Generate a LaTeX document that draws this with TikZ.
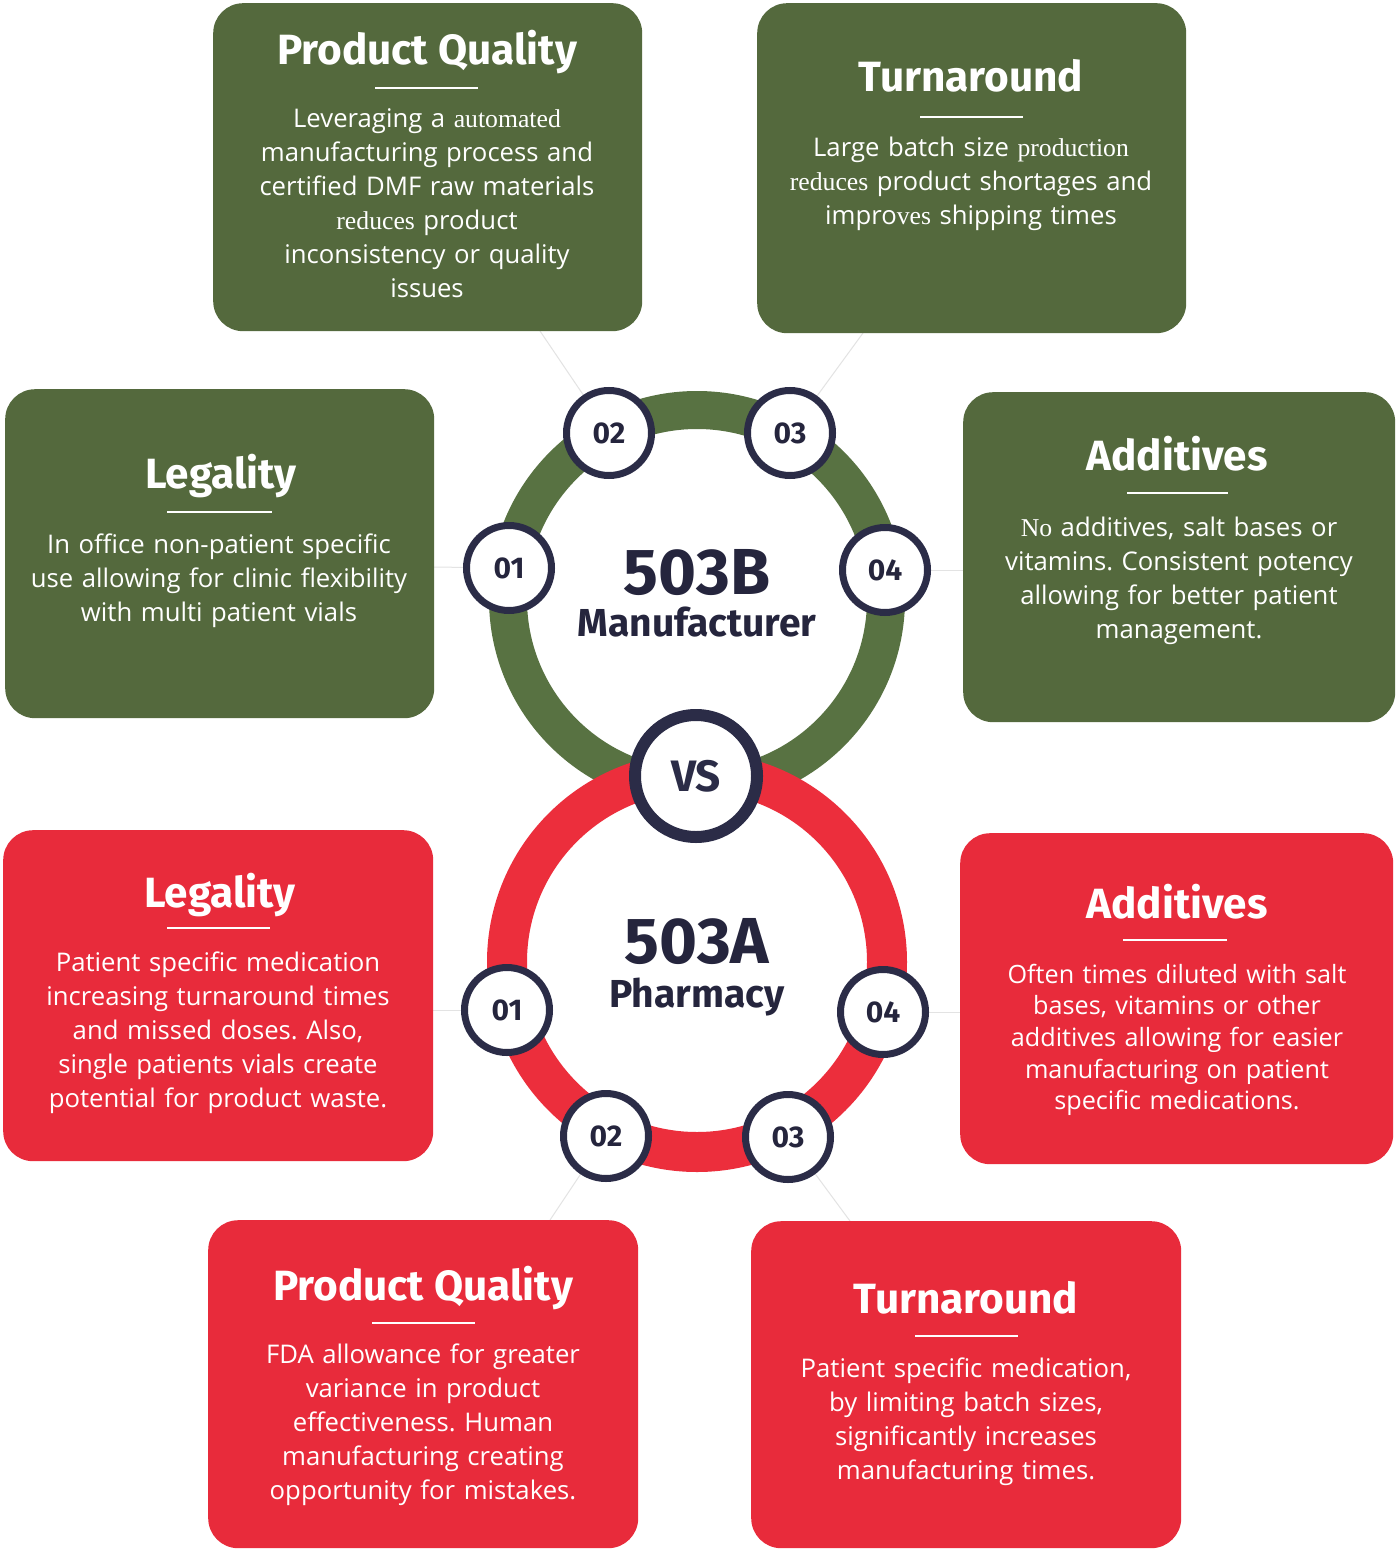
\documentclass[tikz,border=0pt]{standalone}
\usepackage{fontspec}
\setmainfont{Open Sans}
\newfontfamily\bodyf{Open Sans}
\newfontfamily\titlef{Fira Sans}
\newfontfamily\oldserif{Liberation Serif}
\definecolor{gbox}{HTML}{54693D}
\definecolor{gring}{HTML}{587242}
\definecolor{rbox}{HTML}{E82B3B}
\definecolor{rring}{HTML}{EC2E3C}
\definecolor{navy}{HTML}{2B2C47}
\definecolor{ink}{HTML}{25253D}
\pgfdeclarelayer{back}
\pgfdeclarelayer{links}
\pgfsetlayers{back,links,main}
\tikzset{
  panel/.style={rounded corners=30pt, anchor=north west, inner sep=0pt, draw=none},
  gpanel/.style={panel, fill=gbox},
  rpanel/.style={panel, fill=rbox},
  ttl/.style={text=white, anchor=base, inner sep=0pt, font=\titlef\bfseries\fontsize{42.3}{42.3}\selectfont},
  body/.style={text=white, anchor=base, inner sep=0pt, align=center, text width=440pt, font=\bodyf\fontsize{25.7}{34}\selectfont},
  bodyr/.style={body, font=\bodyf\fontsize{25.2}{31.7}\selectfont},
  rule/.style={draw=white, line width=2pt},
  num/.style={circle, draw=navy, line width=7pt, fill=white, minimum size=85pt, inner sep=0pt, text=ink, font=\titlef\bfseries\fontsize{30}{30}\selectfont},
  vsnode/.style={circle, draw=navy, line width=12pt, fill=white, minimum size=122pt, inner sep=0pt, text=navy, font=\titlef\bfseries\fontsize{44}{44}\selectfont},
  big/.style={text=ink, anchor=base, inner sep=0pt, text depth=0pt, font=\titlef\bfseries\fontsize{65}{65}\selectfont},
  sub/.style={text=ink, anchor=base, inner sep=0pt, text height=26pt, font=\titlef\bfseries\fontsize{39}{39}\selectfont},
  link/.style={draw=gray!22, line width=1pt}
}
\begin{document}
\frenchspacing
\begin{tikzpicture}[x=1pt,y=-1pt]
\begin{pgfonlayer}{back}
\fill[white] (0,0) rectangle (1395,1549);
\end{pgfonlayer}
\useasboundingbox (0,0) rectangle (1395,1549);

% ---------- panels ----------
\node[gpanel, minimum width=429pt, minimum height=328pt] (gPQ)  at (213,3) {};
\node[gpanel, minimum width=429pt, minimum height=330pt] (gTA)  at (757,3) {};
\node[gpanel, minimum width=429pt, minimum height=329pt] (gLeg) at (5,389) {};
\node[gpanel, minimum width=432pt, minimum height=330pt] (gAdd) at (963,392) {};
\node[rpanel, minimum width=430pt, minimum height=331pt] (rLeg) at (3,830) {};
\node[rpanel, minimum width=433pt, minimum height=331pt] (rAdd) at (960,833) {};
\node[rpanel, minimum width=430pt, minimum height=328pt] (rPQ)  at (208,1220) {};
\node[rpanel, minimum width=430pt, minimum height=327pt] (rTA)  at (751,1221) {};

% ---------- panel texts ----------
\node[ttl] (gPQt) at (427,65) {Product Quality};
\draw[rule] (375,88) -- (478,88);
\node[body] (gPQb) at (427,128) {Leveraging a {\oldserif automated}\\manufacturing process and\\certified DMF raw materials\\{\oldserif reduces} product\\inconsistency or quality\\issues};

\node[ttl] (gTAt) at (971,92) {Turnaround};
\draw[rule] (920,117) -- (1023,117);
\node[body] (gTAb) at (971,157) {Large batch size {\oldserif production}\\{\oldserif reduces} product shortages and\\impro{\oldserif ves} shipping times};

\node[ttl] (gLegt) at (221,488) {Legality};
\draw[rule] (167,512) -- (272,512);
\node[body] (gLegb) at (219,553) {In office non-patient specific\\use allowing for clinic flexibility\\with multi patient vials};

\node[ttl] (gAddt) at (1177,470) {Additives};
\draw[rule] (1127,493) -- (1228,493);
\node[body] (gAddb) at (1179,536) {{\oldserif No} additives, salt bases or\\vitamins. Consistent potency\\allowing for better patient\\management.};

\node[ttl] (rLegt) at (220,907) {Legality};
\draw[rule] (167,928) -- (270,928);
\node[body] (rLegb) at (218,971) {Patient specific medication\\increasing turnaround times\\and missed doses. Also,\\single patients vials create\\potential for product waste.};

\node[ttl] (rAddt) at (1177,918) {Additives};
\draw[rule] (1123,940) -- (1227,940);
\node[bodyr] (rAddb) at (1177,983) {Often times diluted with salt\\bases, vitamins or other\\additives allowing for easier\\manufacturing on patient\\specific medications.};

\node[ttl] (rPQt) at (423,1300) {Product Quality};
\draw[rule] (372,1323) -- (475,1323);
\node[body] (rPQb) at (423,1363) {FDA allowance for greater\\variance in product\\effectiveness. Human\\manufacturing creating\\opportunity for mistakes.};

\node[ttl] (rTAt) at (966,1313) {Turnaround};
\draw[rule] (915,1336) -- (1018,1336);
\node[body] (rTAb) at (966,1377) {Patient specific medication,\\by limiting batch sizes,\\significantly increases\\manufacturing times.};

% ---------- rings ----------
\draw[gring, line width=38pt] (697,599) circle[radius=189pt];
\draw[rring, line width=40pt] (697,962) circle[radius=190pt];

% ---------- numbered circles ----------
\node[num] (g01) at (509,568) {01};
\node[num] (g02) at (609,433) {02};
\node[num] (g03) at (790,433) {03};
\node[num] (g04) at (885,570) {04};
\node[num] (r01) at (507,1010) {01};
\node[num] (r02) at (606,1136) {02};
\node[num] (r03) at (788,1137) {03};
\node[num] (r04) at (883,1012) {04};
\node[vsnode] (vs) at (696,776) {VS};

\node[big] (b503B) at (697,594) {503B};
\node[sub] (manu) at (697,636) {Manufacturer};
\node[big] (b503A) at (697,963) {503A};
\node[sub] (phar) at (697,1007) {Pharmacy};

% ---------- faint connectors ----------
\coordinate (cgPQ) at (540,331);
\coordinate (cgTA) at (863,333);
\coordinate (cgLeg) at (433,567);
\coordinate (cgAdd) at (963,570);
\coordinate (crLeg) at (433,1010);
\coordinate (crAdd) at (960,1012);
\coordinate (crPQ) at (550,1220);
\coordinate (crTA) at (850,1221);
\begin{pgfonlayer}{links}
\draw[link] (cgPQ) -- (g02.center);
\draw[link] (cgTA) -- (g03.center);
\draw[link] (cgLeg) -- (g01.center);
\draw[link] (cgAdd) -- (g04.center);
\draw[link] (crLeg) -- (r01.center);
\draw[link] (crAdd) -- (r04.center);
\draw[link] (crPQ) -- (r02.center);
\draw[link] (crTA) -- (r03.center);
\end{pgfonlayer}
\end{tikzpicture}
\end{document}
